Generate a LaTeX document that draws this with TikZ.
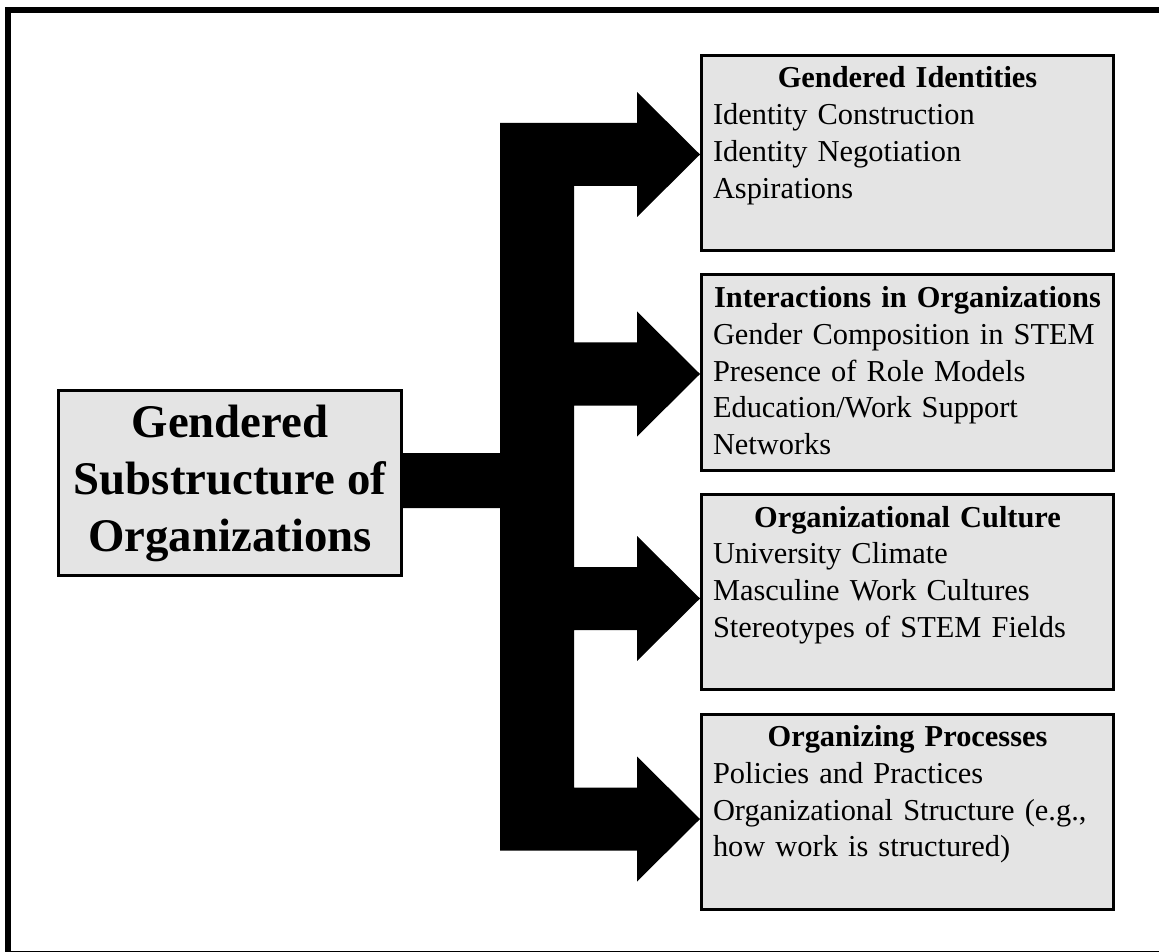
\documentclass[tikz,border=0pt]{standalone}
\usepackage{fontspec}
\setmainfont{Liberation Serif}
\definecolor{boxgray}{HTML}{E4E4E4}

\begin{document}
\begin{tikzpicture}[x=0.5pt, y=-0.5pt,
    titlebox/.style={draw, line width=1.5pt, fill=boxgray, align=center,
      minimum width=171.5pt, minimum height=92.5pt,
      font=\fontsize{23.4}{28.5}\selectfont\bfseries},
    catbox/.style={draw, line width=1.5pt, fill=boxgray, anchor=north west,
      inner sep=5.75pt, text width=194.5pt, align=left,
      text height=10.5pt, text depth=75.5pt,
      font=\fontsize{15.2}{18.4}\selectfont}]
  \useasboundingbox (0,0) rectangle (1159,951);
  \draw[line width=3pt] (8,9.7) rectangle (1164,953.8);

  \node[titlebox] (subst) at (230,483) {Gendered\\Substructure of\\Organizations};

  \node[catbox] (identities) at (700,54) {{\centering\bfseries Gendered Identities\par}
    Identity Construction\\ Identity Negotiation\\ Aspirations};
  \node[catbox] (interactions) at (700,273.5) {{\centering\bfseries Interactions in Organizations\par}
    Gender Composition in STEM\\ Presence of Role Models\\ Education/Work Support\\ Networks};
  \node[catbox] (culture) at (700,493) {{\centering\bfseries Organizational Culture\par}
    University Climate\\ Masculine Work Cultures\\ Stereotypes of STEM Fields};
  \node[catbox] (processes) at (700,712.5) {{\centering\bfseries Organizing Processes\par}
    Policies and Practices\\ Organizational Structure (e.g.,\\ how work is structured)};

  % one outline for the branching arrow
  \fill (500,123)
    foreach \b/\y in {identities/154.5, interactions/374, culture/598.5, processes/819} {
      -- (574,\y-31.5) -- (637,\y-31.5) -- (637,\y-62.5) -- (\b.west |- 0,\y)
      -- (637,\y+62.5) -- (637,\y+31.5) -- (574,\y+31.5)
    }
    -- (500,850.5) -- (500,508) -- (subst.east |- 0,508) -- (subst.east |- 0,453)
    -- (500,453) -- cycle;
\end{tikzpicture}
\end{document}
